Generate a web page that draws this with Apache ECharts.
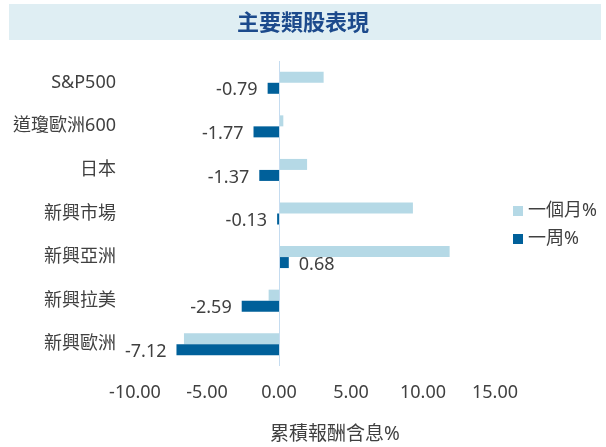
<!DOCTYPE html>
<html lang="zh-Hant">
<head>
    <meta charset="utf-8">
    <title>主要類股表現</title>
    <script src="https://cdn.jsdelivr.net/npm/echarts@6/dist/echarts.min.js"></script>
    <style>
        html, body { margin: 0; padding: 0; background: #fff; }
        #chart { width: 606px; height: 447px; }
    </style>
</head>
<body>
<div id="chart"></div>
<script>
var categories = ['S&P500', '道瓊歐洲600', '日本', '新興市場', '新興亞洲', '新興拉美', '新興歐洲'];
var monthValues = [3.1, 0.3, 1.95, 9.3, 11.85, -0.72, -6.6];
var weekValues = [-0.79, -1.77, -1.37, -0.13, 0.68, -2.59, -7.12];
var xTicks = { min: -10, max: 15, step: 5 };

var font = "'Noto Sans', 'Noto Sans CJK TC', sans-serif";
var textColor = '#404040';

// weekly bars carry value labels, left of the bar when negative
var weekData = weekValues.map(function (v) {
    return {
        value: v,
        label: { position: v < 0 ? 'left' : 'right' }
    };
});

var chart = echarts.init(document.getElementById('chart'));
chart.setOption({
    animation: false,
    textStyle: { fontFamily: font },
    graphic: [{
        type: 'rect',
        z: -1,
        shape: { x: 9, y: 4, width: 592, height: 36 },
        style: { fill: '#dfeef3' }
    }],
    title: {
        text: '主要類股表現',
        left: 'center',
        top: 6,
        textStyle: {
            fontFamily: "'Noto Sans CJK TC', sans-serif",
            fontSize: 22,
            fontWeight: 'bold',
            color: '#1c4a8c'
        }
    },
    legend: {
        orient: 'vertical',
        left: 508,
        top: 197,
        itemWidth: 10,
        itemHeight: 10,
        itemGap: 10,
        icon: 'rect',
        textStyle: { fontSize: 18, color: textColor, fontFamily: font },
        data: ['一個月%', '一周%']
    },
    grid: {
        left: 135,
        right: 111,
        top: 61,
        bottom: 81,
        containLabel: false,
        outerBoundsMode: 'none'
    },
    xAxis: {
        type: 'value',
        min: xTicks.min,
        max: xTicks.max,
        interval: xTicks.step,
        name: '累積報酬含息%',
        nameLocation: 'middle',
        nameGap: 59,
        nameTextStyle: { fontSize: 19, color: textColor, padding: [0, 0, 0, 40] },
        axisLine: { show: false },
        axisTick: { show: false },
        splitLine: { show: false },
        axisLabel: {
            fontSize: 18,
            color: textColor,
            margin: 18,
            formatter: function (v) { return v.toFixed(2); }
        }
    },
    yAxis: {
        type: 'category',
        inverse: true,
        data: categories,
        axisLine: { show: false },
        axisTick: { show: false },
        axisLabel: { fontSize: 18, color: textColor, margin: 19 }
    },
    series: [
        {
            name: '一個月%',
            type: 'bar',
            barWidth: 11,
            barGap: '0%',
            itemStyle: { color: '#b5d9e6' },
            data: monthValues
        },
        {
            name: '一周%',
            type: 'bar',
            barWidth: 11,
            barGap: '0%',
            itemStyle: { color: '#00609a' },
            label: {
                show: true,
                fontSize: 18,
                color: textColor,
                distance: 10,
                offset: [0, 2],
                formatter: function (p) { return p.value.toFixed(2); }
            },
            markLine: {
                silent: true,
                symbol: 'none',
                label: { show: false },
                lineStyle: { color: '#c5dcf0', width: 1, type: 'solid' },
                data: [{ xAxis: 0 }]
            },
            data: weekData
        }
    ]
});
</script>
</body>
</html>
